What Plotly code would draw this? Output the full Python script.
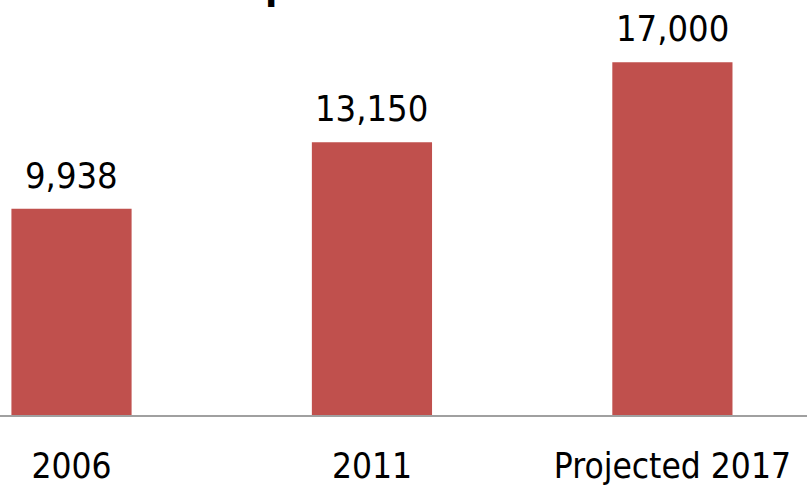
import plotly.graph_objects as go

categories = ["2006", "2011", "Projected 2017"]
values = [9938, 13150, 17000]
value_labels = ["9,938", "13,150", "17,000"]

FONT = "DejaVu Sans Condensed"

fig = go.Figure()
fig.add_trace(go.Bar(
    x=categories,
    y=values,
    width=0.4,
    marker=dict(color="#C0504D", line=dict(width=0)),
    hoverinfo="skip",
))

# value labels above bars (category axis: position by category index)
for i, (val, lab) in enumerate(zip(values, value_labels)):
    fig.add_annotation(
        x=i, y=val, text=lab, xref="x", yref="y",
        xanchor="center", yanchor="bottom", yshift=11,
        showarrow=False, font=dict(family=FONT, size=36, color="#000000"),
    )

# partially visible (cropped) chart title above the plot
fig.add_annotation(
    text="<b>p</b>", xref="paper", yref="paper",
    x=263 / 807, y=0.978, xanchor="left", yanchor="bottom",
    showarrow=False, font=dict(family=FONT, size=40, color="#000000"),
)

fig.update_layout(
    width=807, height=486,
    margin=dict(l=0, r=0, t=0, b=68),
    plot_bgcolor="white", paper_bgcolor="white",
    showlegend=False,
    xaxis=dict(
        type="category",
        range=[-0.238, 2.448],
        showline=True, linecolor="#A0A0A0", linewidth=2,
        showgrid=False, zeroline=False,
        ticks="", ticklabelstandoff=19,
        tickfont=dict(family=FONT, size=35, color="#000000"),
    ),
    yaxis=dict(
        range=[0, 20000], visible=False, showgrid=False, zeroline=False,
    ),
)

fig.write_html(
    "out.html",
    config={"displayModeBar": False},
    post_script="document.body.style.margin='0';document.body.style.overflow='hidden';",
)
